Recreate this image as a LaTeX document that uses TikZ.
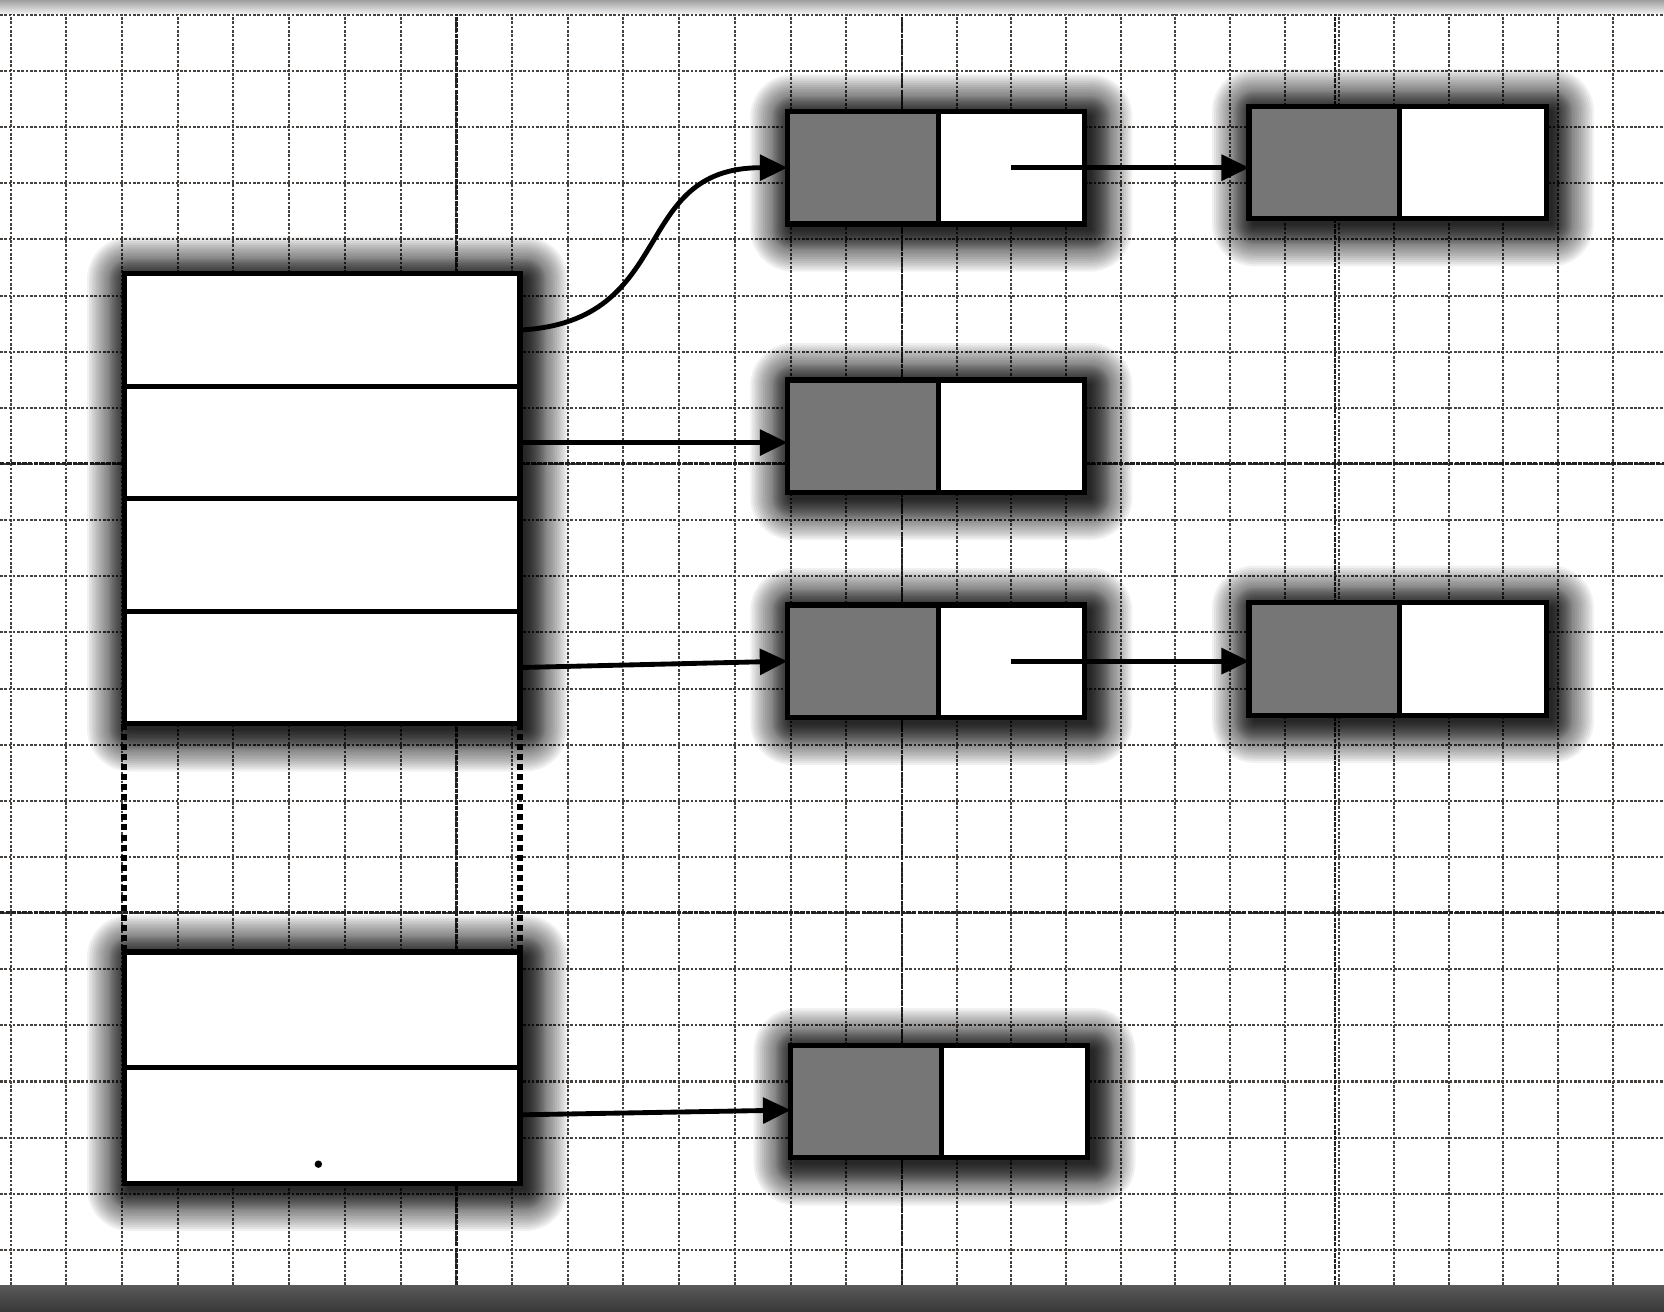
\documentclass[tikz,border=0pt]{standalone}
\usetikzlibrary{arrows.meta,calc}
\definecolor{cellgray}{RGB}{118,118,118}
\definecolor{gridcol}{RGB}{70,66,64}
\definecolor{gridmaj}{RGB}{35,33,32}
\pgfdeclarelayer{bg}
\pgfsetlayers{bg,main}
\newcommand\boxshadow[1]{%
  \foreach \d in {1,2,...,20,22,24,...,40} {%
    \fill[black, opacity=0.055, rounded corners=\d*0.1mm]
      ($(#1.north west)+(-\d+5,-\d+5)$) rectangle ($(#1.south east)+(\d+5,\d+5)$);
  }}
\begin{document}
\begin{tikzpicture}[x=0.1mm,y=-0.1mm,
  box/.style={draw=black, line width=1.4pt, inner sep=0pt, outer sep=0pt},
  chainbox/.style={box, fill=white, minimum width=28mm, minimum height=10.6mm, anchor=north west},
  keycell/.style={box, fill=cellgray, minimum width=14.2mm, minimum height=10.6mm, anchor=north west},
  valcell/.style={box, fill=white, minimum width=13.8mm, minimum height=10.6mm, anchor=north east},
  tblock/.style={box, fill=white, minimum width=37.3mm, anchor=north west},
  trow/.style={box, fill=white, minimum width=37.3mm, anchor=north west},
  conn/.style={line width=1.3pt, -{Triangle[length=2.6mm,width=2.4mm]}},
  gridline/.style={draw=gridcol, line width=0.55pt, dash pattern=on 0.7pt off 0.45pt},
  gridmajor/.style={draw=gridmaj, line width=0.7pt, dash pattern=on 1.2pt off 0.3pt},
  gap/.style={line width=1.6pt, dash pattern=on 1.6pt off 1.1pt}
]
\useasboundingbox (0,0) rectangle (1568,1236);

% hash table, upper block
\node[tblock, minimum height=42.4mm] (T1) at (117,258) {};
\node[trow, minimum height=10.6mm] (r1) at (117,258) {};
\node[trow, minimum height=10.6mm] (r2) at (117,364) {};
\node[trow, minimum height=10.6mm] (r3) at (117,470) {};
\node[trow, minimum height=10.6mm] (r4) at (117,576) {};

% hash table, lower block
\node[tblock, minimum height=21.8mm] (T2) at (117,897) {};
\node[trow, minimum height=10.9mm] (r5) at (117,897) {};
\node[trow, minimum height=10.9mm] (r6) at (117,1006) {};

% chain entries
\foreach \n/\px/\py in {A/742/105, B/1177/100, C/742/358, D/742/570, E/1177/568, F/745/985} {
  \node[chainbox] (\n) at (\px,\py) {};
  \node[keycell] (\n g) at (\n.north west) {};
  \node[valcell] (\n w) at (\n.north east) {};
}

\begin{pgfonlayer}{bg}
  \fill[white] (0,0) rectangle (1568,1236);
  % grid paper
  \foreach \k in {0,...,16} {
    \pgfmathsetmacro\xx{10+52.5*\k}
    \draw[gridline] (\xx,0) -- (\xx,1236);
  }
  \foreach \k in {1,...,13} {
    \pgfmathsetmacro\xx{850+51.5*\k}
    \draw[gridline] (\xx,0) -- (\xx,1236);
  }
  \foreach \k in {0,...,23} {
    \pgfmathsetmacro\yy{14+52.9*\k}
    \draw[gridline] (0,\yy) -- (1568,\yy);
  }
  \foreach \xx in {430,850,1258} {\draw[gridmajor] (\xx,0) -- (\xx,1236);}
  \foreach \yy in {437,860} {\draw[gridmajor] (0,\yy) -- (1568,\yy);}
  % photo edges
  \shade[top color=gray!75, bottom color=gray!10] (0,0) rectangle (1568,13);
  \shade[top color=black!65, bottom color=black!78] (0,1211) rectangle (1568,1236);
  % shadows
  \boxshadow{T1}
  \boxshadow{T2}
  \foreach \n in {A,B,C,D,E,F} {\boxshadow{\n}}
\end{pgfonlayer}

% dotted gap
\draw[gap] (r4.south west) -- (r5.north west);
\draw[gap] (r4.south east) -- (r5.north east);

% speck
\fill[black] (300,1097) circle (0.35mm);

% connectors
\coordinate (c1) at ($(r1.east)+(150,-8)$);
\coordinate (c2) at ($(A.west)+(-150,0)$);
\draw[conn] (r1.east) .. controls (c1) and (c2) .. (A.west);
\draw[conn] (r2.east) -- (r2.east -| C.west);
\draw[conn] (r4.east) -- (D.west);
\draw[conn] ([yshift=1mm]r6.east) -- ([yshift=-0.8mm]F.west);
\draw[conn] (Aw.center) -- (Aw.center -| B.west);
\draw[conn] (Dw.center) -- (Dw.center -| E.west);
\end{tikzpicture}
\end{document}
